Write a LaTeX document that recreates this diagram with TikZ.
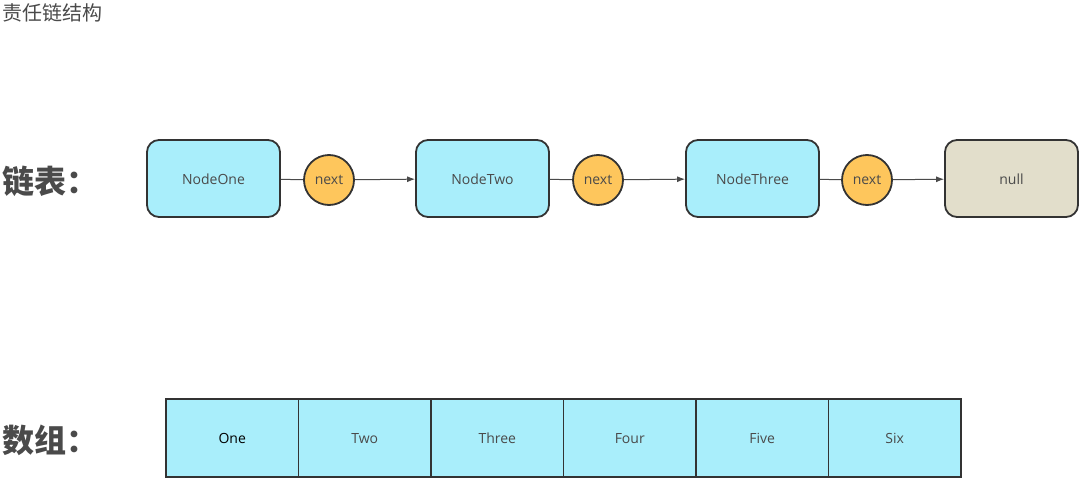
\documentclass[tikz,border=0pt]{standalone}
\usepackage{fontspec}
\usetikzlibrary{arrows.meta}
\setmainfont{Open Sans}
\newfontfamily\cjk{Noto Sans CJK SC}
\definecolor{cellcyan}{HTML}{A9EEFB}
\definecolor{nextorange}{HTML}{FEC65C}
\definecolor{nullbeige}{HTML}{E2DECB}
\definecolor{edgedark}{HTML}{333333}
\definecolor{textgray}{HTML}{4A4A4A}
\begin{document}
\begin{tikzpicture}[x=1pt, y=-1pt,
    % Styles
    listnode/.style={draw=edgedark, fill=cellcyan, line width=1.8pt, rounded corners=12pt, minimum width=133pt, minimum height=77pt, text height=13pt, font=\fontsize{14}{16}\selectfont, text=textgray},
    nullnode/.style={listnode, fill=nullbeige},
    nextptr/.style={circle, draw=edgedark, fill=nextorange, line width=1.8pt, minimum size=50pt, inner sep=0pt, font=\fontsize{14}{16}\selectfont, text=textgray},
    cell/.style={draw=edgedark, fill=cellcyan, line width=1.8pt, minimum width=132.5pt, minimum height=78pt, text height=12pt, font=\fontsize{14}{16}\selectfont, text=textgray},
    link/.style={draw=textgray, line width=1pt},
    link-arrow/.style={link, -{Latex[length=8pt, width=6pt]}},
    heading/.style={font=\cjk\bfseries\fontsize{32}{36}\selectfont, text=textgray, anchor=west, inner sep=0pt},
]
\useasboundingbox (0,0) rectangle (1080,479);

% Title
\node[font=\cjk\fontsize{20}{24}\selectfont, text=textgray, anchor=west, inner sep=0pt] (title) at (2,13) {责任链结构};

% Linked list
\node[heading] (listlabel) at (2,181) {链表：};

\node[listnode] (one) at (213.5,178.5) {NodeOne};
\node[nextptr] (next1) at (329,180) {next};
\node[listnode] (two) at (482.5,178.5) {NodeTwo};
\node[nextptr] (next2) at (598,180) {next};
\node[listnode] (three) at (752.5,178.5) {NodeThree};
\node[nextptr] (next3) at (867,180) {next};
\node[nullnode] (null) at (1011.5,178.5) {null};

\draw[link] (one) -- (next1);
\draw[link-arrow] (next1) -- (two);
\draw[link] (two) -- (next2);
\draw[link-arrow] (next2) -- (three);
\draw[link] (three) -- (next3);
\draw[link-arrow] (next3) -- (null);

% Array
\node[heading] (arraylabel) at (2,440) {数组：};

\node[cell, text=black] (c1) at (232.25,438) {One};
\node[cell] (c2) at (364.75,438) {Two};
\node[cell] (c3) at (497.25,438) {Three};
\node[cell] (c4) at (629.75,438) {Four};
\node[cell] (c5) at (762.25,438) {Five};
\node[cell] (c6) at (894.75,438) {Six};

\end{tikzpicture}
\end{document}
